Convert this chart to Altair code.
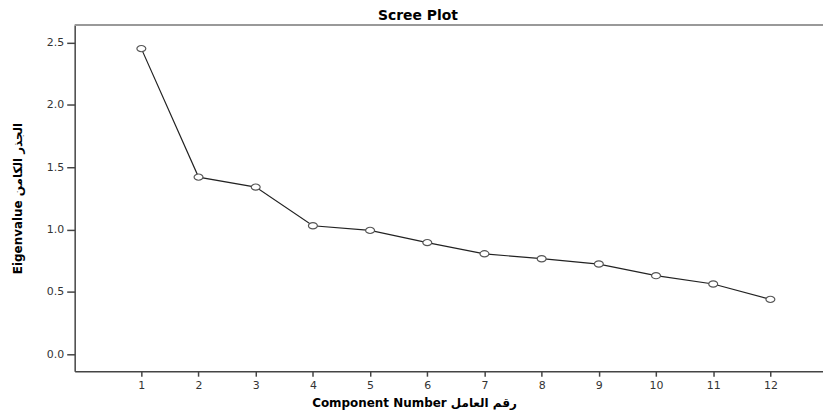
import altair as alt
import pandas as pd

components = [1, 2, 3, 4, 5, 6, 7, 8, 9, 10, 11, 12]
eigenvalues = [2.45, 1.42, 1.34, 1.03, 0.993, 0.895, 0.805, 0.766, 0.723, 0.63, 0.563, 0.44]
y_ticks = [0.0, 0.5, 1.0, 1.5, 2.0, 2.5]

df = pd.DataFrame({"Component": components, "Eigenvalue": eigenvalues})

W, H = 752, 348
FONT = "DejaVu Sans"

x = alt.X("Component:Q",
          scale=alt.Scale(domain=[-0.166, 12.92], nice=False, zero=False),
          axis=alt.Axis(values=components, title="Component Number  رقم العامل",
                        grid=False, tickSize=5, labelPadding=3, domainColor="#444",
                        domainWidth=1.5, tickColor="#444", tickWidth=1.5,
                        labelColor="#333", labelFontSize=11, labelFont=FONT,
                        titleFont=FONT, titleFontSize=12, titleFontWeight="bold",
                        titleColor="#000", titleX=341, titleY=31,
                        titleBaseline="middle", titleAlign="center"))
y = alt.Y("Eigenvalue:Q",
          scale=alt.Scale(domain=[-0.136, 2.64], nice=False, zero=False),
          axis=alt.Axis(values=y_ticks, format=".1f", title="Eigenvalue  الجذر الكامن",
                        grid=False, tickSize=8, labelPadding=3, domainColor="#444",
                        domainWidth=1.5, tickColor="#444", tickWidth=1.5,
                        labelColor="#333", labelFontSize=11, labelFont=FONT,
                        titleFont=FONT, titleFontSize=12, titleFontWeight="bold",
                        titleColor="#000", titleX=-57, titleY=H / 2, titleAngle=-90,
                        titleBaseline="middle", titleAlign="center"))

line = alt.Chart(df).mark_line(color="#222", strokeWidth=1.2).encode(x=x, y=y)
ellipse = "M-1,0 A1,0.7 0 1,0 1,0 A1,0.7 0 1,0 -1,0 Z"
points = alt.Chart(df).mark_point(shape=ellipse, size=80, filled=False, fill="white",
                                  fillOpacity=1, stroke="#555", strokeWidth=1.2,
                                  opacity=1).encode(x=x, y=y)
top = alt.Chart(pd.DataFrame({"a": [0]})).mark_rule(color="#999", strokeWidth=2).encode(
    x=alt.value(0), x2=alt.value(W), y=alt.value(0))
title = alt.Chart(pd.DataFrame({"t": ["Scree Plot"]})).mark_text(
    font=FONT, fontSize=14, fontWeight="bold", color="#000",
    align="center", baseline="alphabetic").encode(
    text="t:N", x=alt.value(345), y=alt.value(-5))

chart = alt.layer(line, points, top, title).properties(
    width=W, height=H,
    autosize=alt.AutoSizeParams(type="none"),
    padding={"left": 67, "top": 16, "right": 0, "bottom": 44},
).configure_view(stroke=None)

chart.save("out.html", embed_options={"renderer": "svg", "actions": False})
